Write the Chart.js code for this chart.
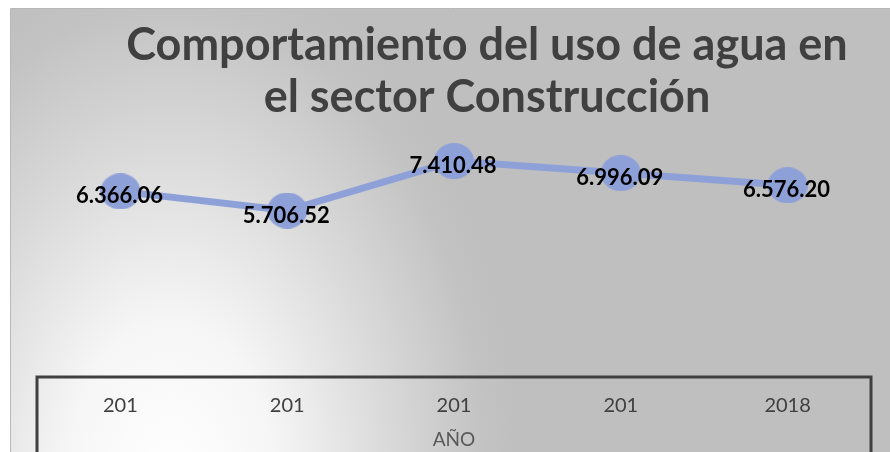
<!DOCTYPE html>
<html>
<head>
<meta charset="utf-8">
<script src="https://cdn.jsdelivr.net/npm/chart.js@4.4.3/dist/chart.umd.min.js"></script>
<style>
  html, body { margin: 0; padding: 0; background: #fff; }
  canvas { display: block; }
</style>
</head>
<body>
<canvas id="chart" width="890" height="452"></canvas>
<script>
// data
const years = ['201', '201', '201', '201', '2018'];
const usage = [6366.06, 5706.52, 7410.48, 6996.09, 6576.20];
const valueLabels = ['6.366.06', '5.706.52', '7.410.48', '6.996.09', '6.576.20'];
const titleLines = ['Comportamiento del uso de agua en', 'el sector Construcción'];
const axisTitle = 'AÑO';

const lineColor = '#8ea0d8';

// slightly wide oval marker, like the original
function ovalMarker(w, h) {
  const c = document.createElement('canvas');
  c.width = w;
  c.height = h;
  const ctx = c.getContext('2d');
  ctx.fillStyle = lineColor;
  ctx.beginPath();
  ctx.ellipse(w / 2, h / 2, w / 2, h / 2, 0, 0, Math.PI * 2);
  ctx.fill();
  return c;
}

// grey panel with a soft white glow in the lower left corner
const backdrop = {
  id: 'backdrop',
  beforeDraw(chart) {
    const ctx = chart.ctx;
    ctx.save();
    ctx.fillStyle = '#fff';
    ctx.fillRect(0, 0, chart.width, chart.height);

    const x0 = 11, y0 = 9, x1 = chart.width, y1 = chart.height;
    const cx = 170, cy = 480, rx = 348, ry = 527;
    const k = ry / rx;
    ctx.beginPath();
    ctx.rect(x0, y0, x1 - x0, y1 - y0);
    ctx.clip();
    ctx.translate(cx, cy);
    ctx.scale(1, k);
    const g = ctx.createRadialGradient(0, 0, 0, 0, 0, rx);
    g.addColorStop(0, '#ffffff');
    g.addColorStop(0.3, '#f6f6f6');
    g.addColorStop(0.6, '#dcdcdc');
    g.addColorStop(0.9, '#c3c3c3');
    g.addColorStop(1, '#bfbfbf');
    ctx.fillStyle = g;
    ctx.fillRect(x0 - cx, (y0 - cy) / k, x1 - x0, (y1 - y0) / k);
    ctx.restore();

    ctx.save();
    ctx.strokeStyle = '#b8b8b8';
    ctx.lineWidth = 1;
    ctx.beginPath();
    ctx.moveTo(10.5, chart.height);
    ctx.lineTo(10.5, 8.5);
    ctx.lineTo(chart.width, 8.5);
    ctx.stroke();
    ctx.restore();
  }
};

// two-line chart title
const bigTitle = {
  id: 'bigTitle',
  afterDraw(chart) {
    const ctx = chart.ctx;
    ctx.save();
    ctx.font = 'bold 45px Lato';
    ctx.fillStyle = '#404040';
    ctx.textAlign = 'center';
    ctx.textBaseline = 'alphabetic';
    ctx.fillText(titleLines[0], 487, 60);
    ctx.fillText(titleLines[1], 487, 112);
    ctx.restore();
  }
};

// dark frame around the category axis
const axisBox = {
  id: 'axisBox',
  afterDraw(chart) {
    const { left, right, bottom } = chart.chartArea;
    const ctx = chart.ctx;
    ctx.save();
    ctx.strokeStyle = '#404040';
    ctx.lineWidth = 3;
    ctx.beginPath();
    ctx.moveTo(left, chart.height);
    ctx.lineTo(left, bottom + 1);
    ctx.lineTo(right, bottom + 1);
    ctx.lineTo(right, chart.height);
    ctx.stroke();
    ctx.restore();
  }
};

// value labels sitting on the markers
const valueTags = {
  id: 'valueTags',
  afterDatasetsDraw(chart) {
    const ctx = chart.ctx;
    const meta = chart.getDatasetMeta(0);
    ctx.save();
    ctx.font = 'bold 22px Lato';
    ctx.fillStyle = '#000';
    ctx.textAlign = 'center';
    ctx.textBaseline = 'middle';
    meta.data.forEach((pt, i) => {
      ctx.fillText(valueLabels[i], pt.x - 1, pt.y + 5);
    });
    ctx.restore();
  }
};

new Chart(document.getElementById('chart'), {
  type: 'line',
  data: {
    labels: years,
    datasets: [{
      data: usage,
      borderColor: lineColor,
      backgroundColor: lineColor,
      borderWidth: 7,
      pointStyle: ovalMarker(40, 36),
      pointRadius: 19,
      pointBorderWidth: 0,
      pointBackgroundColor: lineColor,
      tension: 0,
      clip: false,
    }],
  },
  options: {
    responsive: false,
    animation: false,
    devicePixelRatio: 1,
    layout: { padding: { left: 37, right: 16, top: 144, bottom: 0 } },
    plugins: {
      legend: { display: false },
      tooltip: { enabled: false },
      title: { display: false },
    },
    scales: {
      x: {
        type: 'category',
        offset: true,
        grid: { display: false, drawTicks: false },
        border: { display: false },
        ticks: { font: { family: 'Lato', size: 20 }, color: '#404040', padding: 18, maxRotation: 0, autoSkip: false },
        title: { display: true, text: axisTitle, font: { family: 'Lato', size: 19 }, color: '#595959', padding: { top: 0, bottom: 1 } },
        afterFit(scale) { scale.height = 76; },
      },
      y: { display: false, min: 0, max: 8000 },
    },
  },
  plugins: [backdrop, bigTitle, axisBox, valueTags],
});
</script>
</body>
</html>
